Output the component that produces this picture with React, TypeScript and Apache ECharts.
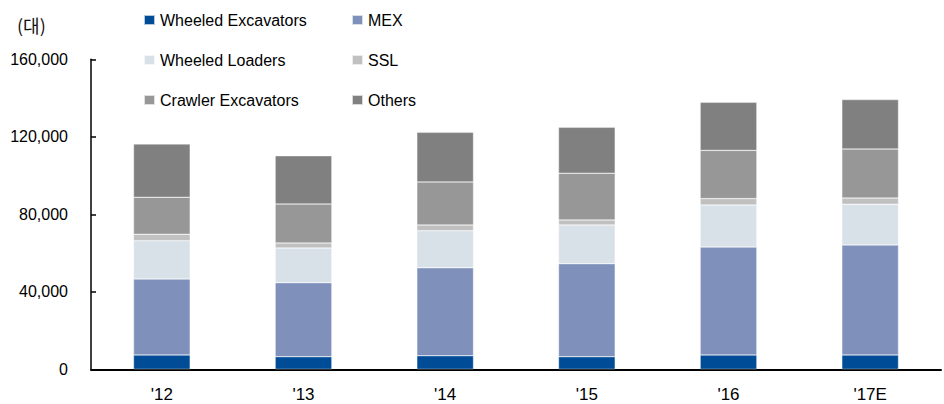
import React, { useEffect, useRef } from "react";
import * as echarts from "echarts";

const categories = ["'12", "'13", "'14", "'15", "'16", "'17E"];
const wheeledExcavators = [7400, 6500, 7000, 6500, 7400, 7400];
const mex = [39200, 38200, 45400, 48000, 55700, 56800];
const wheeledLoaders = [19800, 17900, 19100, 20000, 21700, 21000];
const ssl = [3300, 2600, 3000, 2600, 3300, 3200];
const crawlerExcavators = [19100, 20100, 22200, 24100, 24900, 25300];
const others = [27500, 24900, 25600, 23700, 24800, 25500];
const yTicks = [0, 40000, 80000, 120000, 160000];

const FONT = "'Liberation Sans', Arial, sans-serif";

const seriesDefs = [
  { name: "Wheeled Excavators", data: wheeledExcavators, color: "#004c97" },
  { name: "MEX", data: mex, color: "#7f91bb" },
  { name: "Wheeled Loaders", data: wheeledLoaders, color: "#d8e0e8" },
  { name: "SSL", data: ssl, color: "#c0c0c0" },
  { name: "Crawler Excavators", data: crawlerExcavators, color: "#979797" },
  { name: "Others", data: others, color: "#808080" },
];

export default function App() {
  const ref = useRef<HTMLDivElement>(null);
  useEffect(() => {
    if (!ref.current) return;
    const chart = echarts.init(ref.current, null, { renderer: "svg" });
    const legendCommon = {
      orient: "vertical" as const,
      top: 10,
      padding: 0,
      itemWidth: 11,
      itemHeight: 10,
      itemGap: 20,
      icon: "rect",
      textStyle: { fontFamily: FONT, fontSize: 16, color: "#000", lineHeight: 20 },
      selectedMode: false,
    };
    chart.setOption({
      animation: false,
      textStyle: { fontFamily: FONT },
      graphic: [
        {
          type: "text",
          x: 17,
          y: 25,
          style: {
            text: "(대)",
            fontFamily: "'Noto Sans CJK KR', " + FONT,
            fontSize: 18,
            fill: "#111",
            verticalAlign: "middle",
          },
        },
      ],
      legend: [
        { ...legendCommon, left: 143, data: ["Wheeled Excavators", "Wheeled Loaders", "Crawler Excavators"] },
        { ...legendCommon, left: 351, data: ["MEX", "SSL", "Others"] },
      ],
      grid: { left: 91, right: 3, top: 59.3, bottom: 34.7, containLabel: false },
      xAxis: {
        type: "category",
        data: categories,
        boundaryGap: true,
        axisLine: { lineStyle: { color: "#000", width: 2 } },
        axisTick: { inside: true, length: 5, interval: 0, lineStyle: { color: "#000", width: 1.5 } },
        axisLabel: { fontFamily: FONT, fontSize: 17, color: "#000", margin: 17 },
      },
      yAxis: {
        type: "value",
        min: yTicks[0],
        max: yTicks[yTicks.length - 1],
        interval: yTicks[1] - yTicks[0],
        axisLine: { show: true, lineStyle: { color: "#000", width: 1.5 } },
        axisTick: { show: true, inside: true, length: 5, lineStyle: { color: "#000", width: 1.5 } },
        splitLine: { show: false },
        axisLabel: {
          fontFamily: FONT,
          fontSize: 16,
          color: "#000",
          margin: 23,
          formatter: (v: number) => v.toLocaleString("en-US"),
        },
      },
      series: seriesDefs.map((s) => ({
        name: s.name,
        type: "bar",
        stack: "total",
        barWidth: "40%",
        data: s.data,
        itemStyle: { color: s.color, borderColor: "rgba(255,255,255,0.7)", borderWidth: 0.5 },
      })),
    });
    return () => chart.dispose();
  }, []);
  return (
    <div
      ref={ref}
      style={{ position: "absolute", left: 0, top: 0, width: 944, height: 404 }}
    />
  );
}
